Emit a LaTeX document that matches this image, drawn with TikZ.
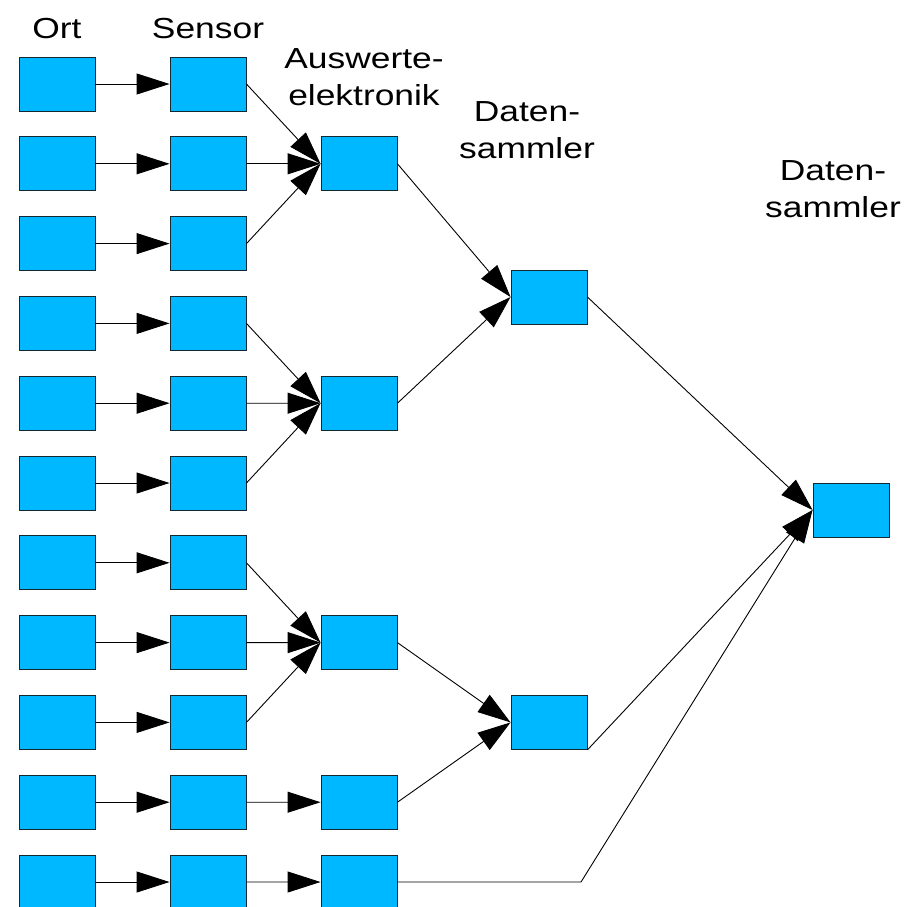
\documentclass[tikz,border=0pt]{standalone}
\usepackage{fontspec}
\usetikzlibrary{positioning, arrows.meta}
\newfontfamily\lblfont[FakeStretch=1.22]{Liberation Sans}
\definecolor{boxblue}{RGB}{0,184,255}
\definecolor{boxline}{RGB}{20,40,50}
\tikzset{
    blk/.style={draw=boxline, fill=boxblue, minimum width=76pt, minimum height=54pt, inner sep=0pt, line width=0.9pt},
    conn/.style={line width=0.9pt, -{Triangle[length=33pt,width=21pt]}},
    lbl/.style={font=\lblfont\fontsize{29pt}{37pt}\selectfont, align=center, anchor=base, inner sep=0pt}
}

\begin{document}
\begin{tikzpicture}[x=1pt, y=-1pt]
            \useasboundingbox (0,0) rectangle (916,906);
            \foreach \r in {1,...,11} {
                \node[blk] (ort\r) at (57, {84+79.8*(\r-1)}) {};
                \node[blk] (sen\r) at (208, {84+79.8*(\r-1)}) {};
                \draw[conn] (ort\r) -- (sen\r);
            }
            \node[blk] (ausw1) at (359, 163.8) {};
            \node[blk] (ausw2) at (359, 403.2) {};
            \node[blk] (ausw3) at (359, 642.6) {};
            \node[blk] (ausw4) at (359, 802.2) {};
            \node[blk] (ausw5) at (359, 882) {};
            \node[blk] (dat1) at (549, 297) {};
            \node[blk] (dat2) at (549, 722.4) {};
            \node[blk] (zentr) at (851, 510) {};
            \coordinate (knick) at (581, 882);
            \foreach \s/\a in {1/1, 2/1, 3/1, 4/2, 5/2, 6/2, 7/3, 8/3, 9/3, 10/4, 11/5} {
                \draw[conn] (sen\s.east) -- (ausw\a.west);
            }
            \foreach \a/\d in {1/1, 2/1, 3/2, 4/2} {
                \draw[conn] (ausw\a.east) -- (dat\d.west);
            }
            \draw[conn] (dat1.east) -- (zentr.west);
            \draw[conn] (dat2.south east) -- (zentr.west);
            \draw[conn] (ausw5.east) -- (knick) -- (zentr.west);
            \node[lbl] (tOrt) at (57, 38) {Ort};
            \node[lbl] (tSen) at (208, 38) {Sensor};
            \node[lbl] (tAusw) at (364, 105) {Auswerte-\\elektronik};
            \node[lbl] (tDat1) at (527, 158) {Daten-\\sammler};
            \node[lbl] (tDat2) at (833, 217) {Daten-\\sammler};
        \end{tikzpicture}
\end{document}
